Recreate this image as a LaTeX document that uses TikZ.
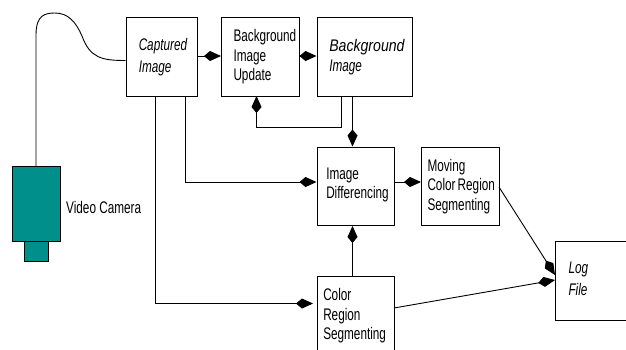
\documentclass[tikz,border=0pt]{standalone}
\usepackage{fontspec}
\setmainfont{Liberation Sans}
\newfontfamily\narrowfont[FakeStretch=0.70]{Liberation Sans}
\newfontfamily\wideital[FakeStretch=0.84]{Liberation Sans}
\usetikzlibrary{arrows.meta,calc}
\definecolor{camteal}{HTML}{008F8A}
\newcommand{\lifttext}[1]{\\[#1]\mbox{}}

\tikzset{
  box/.style={draw,line width=1pt,rectangle,anchor=north west,inner xsep=0pt,inner ysep=0pt,align=left},
  boxtext/.style={font=\narrowfont\fontsize{16.8}{19.5}\selectfont},
  link/.style={line width=0.9pt,-{Kite[length=17pt,width=10pt,inset=6pt]}},
  line/.style={line width=0.9pt}
}

\begin{document}
\begin{tikzpicture}[x=1pt,y=-1pt]
\useasboundingbox (0,0) rectangle (626,349);

\node[box,boxtext,minimum width=71.5pt,minimum height=79pt,text width=46pt] (captured) at (125.5,17) {\itshape Captured\\[2.5pt]\itshape Image\lifttext{-15.5pt}};
\node[box,boxtext,minimum width=78pt,minimum height=79pt,text width=54pt] (update) at (221,17) {Background\\Image\\Update};
\node[box,boxtext,minimum width=95.5pt,minimum height=79pt,text width=71pt] (bgimage) at (316.5,17) {{\wideital\fontsize{16.8}{19.5}\selectfont\itshape Background}\\\itshape Image};
\node[box,boxtext,minimum width=77.5pt,minimum height=78.5pt,text width=59pt] (diff) at (316.5,146.5) {Image\\Differencing\lifttext{-13.5pt}};
\node[box,boxtext,minimum width=78pt,minimum height=78.5pt,text width=66pt] (moving) at (421,146.5) {Moving\\\mbox{Color\kern-3.5pt\ Region}\\Segmenting};
\node[box,boxtext,minimum width=77.5pt,minimum height=79pt,text width=65pt] (colorseg) at (316.5,276) {Color\\Region\\Segmenting};
\node[box,boxtext,minimum width=80pt,minimum height=79pt,text width=54pt] (logfile) at (555,241) {\itshape Log\\[2.5pt]\itshape File\lifttext{-15.5pt}};

\node[draw,line width=0.8pt,fill=camteal,rectangle,anchor=north,minimum width=24pt,minimum height=20pt] (lens) at (36,241) {};
\node[draw,line width=0.8pt,fill=camteal,rectangle,anchor=north,minimum width=48pt,minimum height=75pt] (camera) at (36,166) {};
\node[boxtext,anchor=west,inner sep=0pt] (camlabel) at (66,207) {Video Camera};

% cable
\draw[line] (camera.north) -- (36,35) .. controls (36,15) and (45,13) .. (55,13)
  .. controls (68,13) and (76,22) .. (82,36) .. controls (90,58) and (102,60.5) .. (captured.west |- 0,60.5);

\draw[link] (captured.east |- 0,56) -- (update.west |- 0,56);
\draw[link] (update.east |- 0,56) -- (bgimage.west |- 0,56);

\coordinate (bgleft) at (341,96);
\coordinate (bgright) at (352.5,96);
\coordinate (updown) at (256.5,96);
\draw[link] (bgleft) -- (341,127) -- (256.5,127) -- (updown);
\draw[link] (bgright) -- (diff.north -| bgright);

\draw[link] (185,96) -- (185,182) -- (diff.west |- 0,182);
\draw[link] (155,96) -- (155,303.5) -- (313,303.5);

\draw[link] (diff.east |- 0,182) -- (moving.west |- 0,182);
\draw[link] (colorseg.north -| bgright) -- (diff.south -| bgright);

\coordinate (logtip) at (555,275);
\draw[link] (499,187) -- (logtip);
\draw[link] (394,308) -- (555,280);

\end{tikzpicture}
\end{document}
